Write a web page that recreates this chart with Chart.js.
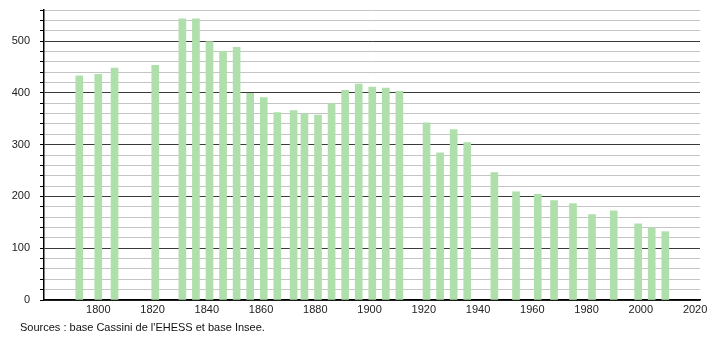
<!DOCTYPE html>
<html>
<head>
<meta charset="utf-8">
<script src="https://cdn.jsdelivr.net/npm/chart.js@4.4.1/dist/chart.umd.min.js"></script>
<style>
    body { margin: 0; background: #fff; }
    #wrap { position: relative; width: 710px; height: 340px; }
    #source {
        position: absolute; left: 20px; top: 321px;
        font: 11px "Liberation Sans", Arial, sans-serif; color: #111;
    }
</style>
</head>
<body>
<div id="wrap">
    <canvas id="graphiquePopulation" width="710" height="340"></canvas>
    <div id="source">Sources : base Cassini de l'EHESS et base Insee.</div>
</div>
<script>
// Années de recensement et population
const annees = [1793, 1800, 1806, 1821, 1831, 1836, 1841, 1846, 1851, 1856, 1861, 1866, 1872, 1876, 1881, 1886, 1891, 1896, 1901, 1906, 1911, 1921, 1926, 1931, 1936, 1946, 1954, 1962, 1968, 1975, 1982, 1990, 1999, 2004, 2009];
const population = [433, 436, 448, 453, 543, 543, 499, 480, 488, 399, 391, 362, 366, 360, 357, 379, 405, 417, 411, 409, 403, 342, 284, 329, 304, 246, 209, 204, 192, 186, 165, 172, 147, 139, 132];
const etiquettesX = [1800, 1820, 1840, 1860, 1880, 1900, 1920, 1940, 1960, 1980, 2000, 2020];
const etiquettesY = [0, 100, 200, 300, 400, 500];

const police = { family: '"Liberation Sans", Arial, sans-serif', size: 11 };

const ctx = document.getElementById('graphiquePopulation').getContext('2d');
new Chart(ctx, {
    type: 'bar',
    data: {
        datasets: [{
            data: annees.map((a, i) => ({ x: a, y: population[i] })),
            backgroundColor: '#afdfab',
            barThickness: 7
        }]
    },
    options: {
        responsive: false,
        animation: false,
        layout: { padding: { top: 10, right: 10, left: 0, bottom: 0 } },
        plugins: { legend: { display: false }, tooltip: { enabled: false } },
        scales: {
            x: {
                type: 'linear',
                offset: false,
                min: 1780,
                max: 2021.8,
                afterBuildTicks: scale => { scale.ticks = etiquettesX.map(v => ({ value: v })); },
                afterFit: scale => { scale.height = 40; scale.paddingLeft = 0; scale.paddingRight = 0; },
                grid: { display: false, drawTicks: false },
                border: { display: true, color: '#000', width: 1.5 },
                ticks: { color: '#222', font: police, padding: 3, maxRotation: 0, autoSkip: false,
                         callback: v => String(v) }
            },
            y: {
                min: 0,
                max: 560,
                afterBuildTicks: scale => {
                    const t = [];
                    for (let v = 0; v <= 560; v += 20) t.push({ value: v });
                    scale.ticks = t;
                },
                afterFit: scale => { scale.width = 44; scale.paddingTop = 0; scale.paddingBottom = 0; },
                grid: {
                    color: c => (c.tick.value % 100 === 0 ? '#3a3a3a' : '#c4c4c4'),
                    tickColor: '#000',
                    tickLength: 4,
                    lineWidth: 1
                },
                border: { display: true, color: '#000', width: 1.5 },
                ticks: {
                    color: '#222', font: police, padding: 10, autoSkip: false,
                    callback: v => (etiquettesY.includes(v) ? String(v) : '')
                }
            }
        }
    }
});
</script>
</body>
</html>
